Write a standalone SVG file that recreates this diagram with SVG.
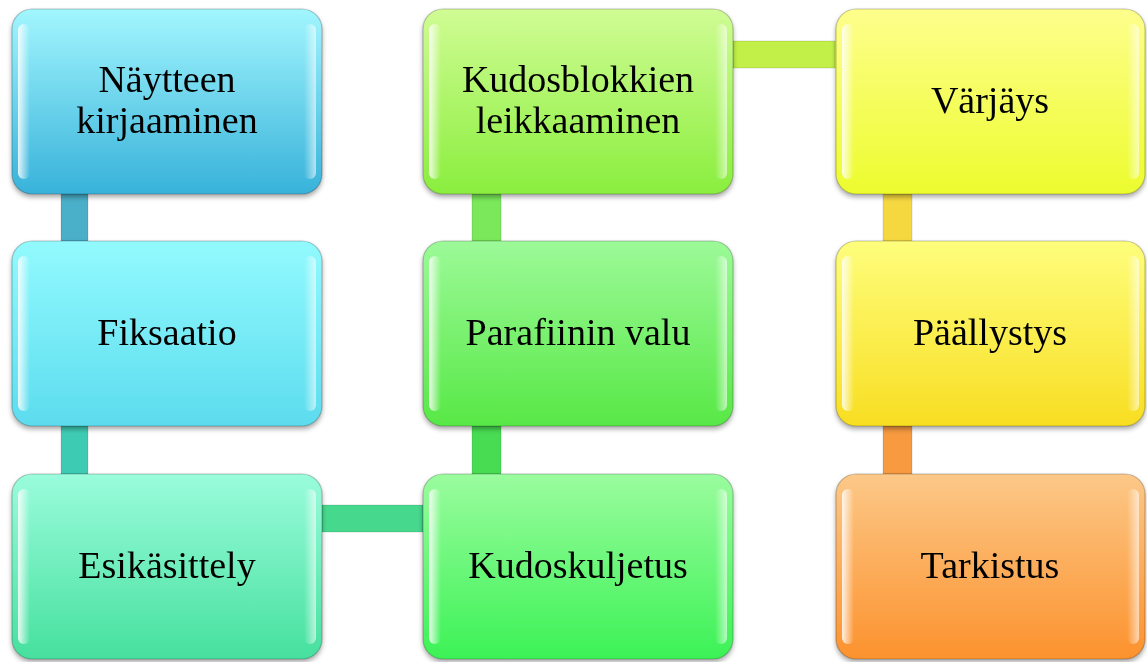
<svg xmlns="http://www.w3.org/2000/svg" width="1147" height="662" viewBox="0 0 1147 662">
<defs>
<linearGradient id="g1" x1="0" y1="0" x2="0" y2="1"><stop offset="0" stop-color="#a2f6fe"/><stop offset="1" stop-color="#38b2da"/></linearGradient>
<linearGradient id="g2" x1="0" y1="0" x2="0" y2="1"><stop offset="0" stop-color="#92fafe"/><stop offset="1" stop-color="#5cdcee"/></linearGradient>
<linearGradient id="g3" x1="0" y1="0" x2="0" y2="1"><stop offset="0" stop-color="#9afcdc"/><stop offset="1" stop-color="#46e09e"/></linearGradient>
<linearGradient id="g4" x1="0" y1="0" x2="0" y2="1"><stop offset="0" stop-color="#9afc9e"/><stop offset="1" stop-color="#3cf256"/></linearGradient>
<linearGradient id="g5" x1="0" y1="0" x2="0" y2="1"><stop offset="0" stop-color="#9cfa98"/><stop offset="1" stop-color="#58e846"/></linearGradient>
<linearGradient id="g6" x1="0" y1="0" x2="0" y2="1"><stop offset="0" stop-color="#d0fc94"/><stop offset="1" stop-color="#8aee3e"/></linearGradient>
<linearGradient id="g7" x1="0" y1="0" x2="0" y2="1"><stop offset="0" stop-color="#fefe8c"/><stop offset="1" stop-color="#ecfc2e"/></linearGradient>
<linearGradient id="g8" x1="0" y1="0" x2="0" y2="1"><stop offset="0" stop-color="#fefe7c"/><stop offset="1" stop-color="#f8de22"/></linearGradient>
<linearGradient id="g9" x1="0" y1="0" x2="0" y2="1"><stop offset="0" stop-color="#fcc888"/><stop offset="1" stop-color="#fc922e"/></linearGradient>
<linearGradient id="hl" x1="0" y1="0" x2="1" y2="0"><stop offset="0" stop-color="#fff" stop-opacity="0.85"/><stop offset="1" stop-color="#fff" stop-opacity="0"/></linearGradient>
<linearGradient id="hr" x1="1" y1="0" x2="0" y2="0"><stop offset="0" stop-color="#fff" stop-opacity="0.6"/><stop offset="1" stop-color="#fff" stop-opacity="0"/></linearGradient>
<filter id="sh" x="-10%" y="-10%" width="120%" height="125%"><feDropShadow dx="0" dy="3" stdDeviation="2.5" flood-color="#000" flood-opacity="0.35"/></filter>
</defs>
<style>
.box{stroke:#000;stroke-opacity:0.22;stroke-width:1.2}
.hl{fill:url(#hl)}
.hr{fill:url(#hr)}
.lbl{font-family:"Liberation Serif","Times New Roman",serif;font-size:38px;fill:#000;text-anchor:middle}
.con{stroke:#000;stroke-opacity:0.12;stroke-width:1}
</style>
<g id="connectors">
<rect class="con" x="61" y="194" width="27" height="47" fill="#4aafc8"/>
<rect class="con" x="61" y="426" width="27" height="48" fill="#3ecbb4"/>
<rect class="con" x="322" y="505" width="101" height="27" fill="#46d98e"/>
<rect class="con" x="472" y="426" width="29" height="48" fill="#48dc52"/>
<rect class="con" x="472" y="194" width="29" height="47" fill="#7ae85a"/>
<rect class="con" x="733" y="41" width="102" height="27" fill="#c2f048"/>
<rect class="con" x="883" y="194" width="29" height="47" fill="#f5d840"/>
<rect class="con" x="883" y="426" width="29" height="48" fill="#f79a40"/>
</g>
<g id="n1" filter="url(#sh)">
<rect class="box" x="12" y="9" width="310" height="185" rx="20" fill="url(#g1)"/>
<rect class="hl" x="18" y="24" width="12" height="155" rx="6"/>
<rect class="hr" x="304" y="24" width="12" height="155" rx="6"/>
<text class="lbl" x="167" y="92">Näytteen</text>
<text class="lbl" x="167" y="133">kirjaaminen</text>
</g>
<g id="n2" filter="url(#sh)">
<rect class="box" x="12" y="241" width="310" height="185" rx="20" fill="url(#g2)"/>
<rect class="hl" x="18" y="256" width="12" height="155" rx="6"/>
<rect class="hr" x="304" y="256" width="12" height="155" rx="6"/>
<text class="lbl" x="167" y="345">Fiksaatio</text>
</g>
<g id="n3" filter="url(#sh)">
<rect class="box" x="12" y="474" width="310" height="185" rx="20" fill="url(#g3)"/>
<rect class="hl" x="18" y="489" width="12" height="155" rx="6"/>
<rect class="hr" x="304" y="489" width="12" height="155" rx="6"/>
<text class="lbl" x="167" y="578">Esikäsittely</text>
</g>
<g id="n4" filter="url(#sh)">
<rect class="box" x="423" y="474" width="310" height="185" rx="20" fill="url(#g4)"/>
<rect class="hl" x="429" y="489" width="12" height="155" rx="6"/>
<rect class="hr" x="715" y="489" width="12" height="155" rx="6"/>
<text class="lbl" x="578" y="578">Kudoskuljetus</text>
</g>
<g id="n5" filter="url(#sh)">
<rect class="box" x="423" y="241" width="310" height="185" rx="20" fill="url(#g5)"/>
<rect class="hl" x="429" y="256" width="12" height="155" rx="6"/>
<rect class="hr" x="715" y="256" width="12" height="155" rx="6"/>
<text class="lbl" x="578" y="345">Parafiinin valu</text>
</g>
<g id="n6" filter="url(#sh)">
<rect class="box" x="423" y="9" width="310" height="185" rx="20" fill="url(#g6)"/>
<rect class="hl" x="429" y="24" width="12" height="155" rx="6"/>
<rect class="hr" x="715" y="24" width="12" height="155" rx="6"/>
<text class="lbl" x="578" y="92">Kudosblokkien</text>
<text class="lbl" x="578" y="133">leikkaaminen</text>
</g>
<g id="n7" filter="url(#sh)">
<rect class="box" x="836" y="9" width="309" height="185" rx="20" fill="url(#g7)"/>
<rect class="hl" x="842" y="24" width="12" height="155" rx="6"/>
<rect class="hr" x="1127" y="24" width="12" height="155" rx="6"/>
<text class="lbl" x="990" y="113">Värjäys</text>
</g>
<g id="n8" filter="url(#sh)">
<rect class="box" x="836" y="241" width="309" height="185" rx="20" fill="url(#g8)"/>
<rect class="hl" x="842" y="256" width="12" height="155" rx="6"/>
<rect class="hr" x="1127" y="256" width="12" height="155" rx="6"/>
<text class="lbl" x="990" y="345">Päällystys</text>
</g>
<g id="n9" filter="url(#sh)">
<rect class="box" x="836" y="474" width="309" height="185" rx="20" fill="url(#g9)"/>
<rect class="hl" x="842" y="489" width="12" height="155" rx="6"/>
<rect class="hr" x="1127" y="489" width="12" height="155" rx="6"/>
<text class="lbl" x="990" y="578">Tarkistus</text>
</g>
</svg>
